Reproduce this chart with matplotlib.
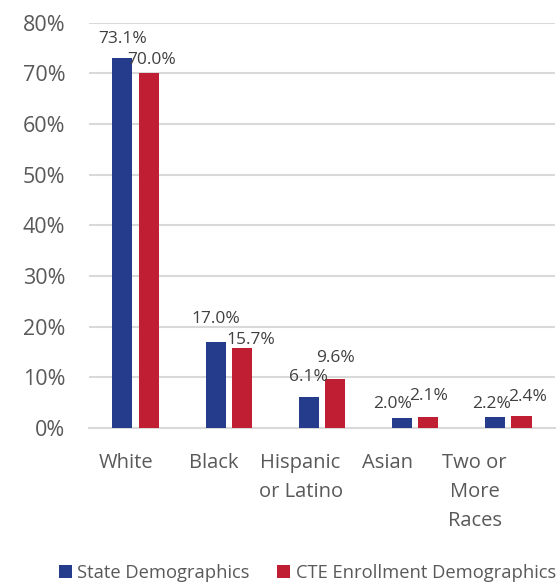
import numpy as np
import matplotlib
matplotlib.use("Agg")
import matplotlib.pyplot as plt
import matplotlib.transforms as mtransforms
from matplotlib.ticker import PercentFormatter

categories = ["White", "Black", "Hispanic\nor Latino", "Asian", "Two or\nMore\nRaces"]
state = [73.1, 17.0, 6.1, 2.0, 2.2]
cte = [70.0, 15.7, 9.6, 2.1, 2.4]
series_names = ["State Demographics", "CTE Enrollment Demographics"]

BLUE = "#253b8b"
RED = "#c01f33"
TEXT = "#595959"

# label nudges in pixels (dx, gap above bar), as placed in the original
state_nudge = [(0, 15), (0, 19), (0, 16), (-10, 10), (-4, 9)]
cte_nudge = [(3, 10), (9, 5), (0, 17), (0, 17), (6, 15)]

plt.rcParams["font.family"] = ["Open Sans", "DejaVu Sans"]

fig = plt.figure(figsize=(5.59, 5.83), dpi=100)
ax = fig.add_axes([0.159, 0.266, 0.834, 0.695])

x = np.arange(len(categories))
w = 0.215
off = 0.14
b1 = ax.bar(x - off, state, w, color=BLUE, label=series_names[0], zorder=3)
b2 = ax.bar(x + off, cte, w, color=RED, label=series_names[1], zorder=3)

for bars, vals, nudge in ((b1, state, state_nudge), (b2, cte, cte_nudge)):
    for rect, v, (dx, dy) in zip(bars, vals, nudge):
        ax.annotate(f"{v:.1f}%", (rect.get_x() + rect.get_width() / 2, v),
                    xytext=(dx * 0.72, dy * 0.72 - 3), textcoords="offset points",
                    ha="center", va="bottom", fontsize=12.5, color="#404040", zorder=4)

ax.set_xlim(-0.5, len(categories) - 0.5)
ax.set_ylim(0, 80)
ax.set_yticks(np.arange(0, 81, 10))
ax.yaxis.set_major_formatter(PercentFormatter(decimals=0))
ax.grid(axis="y", color="#d9d9d9", linewidth=1.5, zorder=0)
for s in ["top", "right", "left"]:
    ax.spines[s].set_visible(False)
ax.spines["bottom"].set_color("#d9d9d9")
ax.spines["bottom"].set_linewidth(1.5)
ax.set_xticks(x)
ax.set_xticklabels(categories, linespacing=1.6)
ax.tick_params(axis="both", length=0, labelsize=14.5, colors=TEXT)
ax.tick_params(axis="y", labelsize=15.5, pad=17)
ax.tick_params(axis="x", pad=18)

# category labels sit a little left of their bars in the original
for i, lab in enumerate(ax.get_xticklabels()):
    shift = mtransforms.ScaledTranslation(-(9 + 6.2 * i) / 100, 0, fig.dpi_scale_trans)
    lab.set_transform(lab.get_transform() + shift)

fig.legend(loc="lower center", bbox_to_anchor=(0.55, -0.026), ncol=2, frameon=False,
           fontsize=13.2, handlelength=0.7, handleheight=0.7, handletextpad=0.3,
           columnspacing=1.5, labelcolor=TEXT)

fig.savefig("out.png", dpi=100)
